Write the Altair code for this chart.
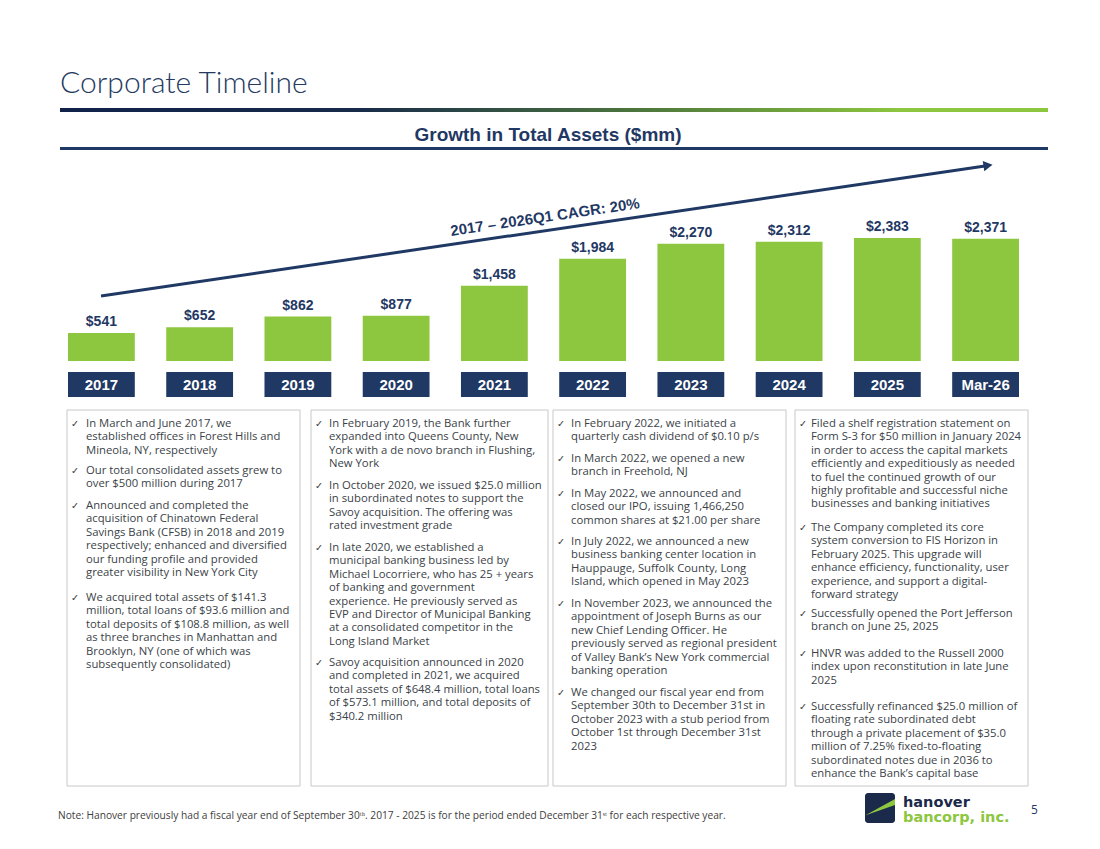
import altair as alt
import pandas as pd

# ---------------- data ----------------
years = ["2017", "2018", "2019", "2020", "2021", "2022", "2023", "2024", "2025", "Mar-26"]
assets = [541, 652, 862, 877, 1458, 1984, 2270, 2312, 2383, 2371]
labels = ["$541", "$652", "$862", "$877", "$1,458", "$1,984", "$2,270", "$2,312", "$2,383", "$2,371"]

box1 = [
    "In March and June 2017, we\nestablished offices in Forest Hills and\nMineola, NY, respectively",
    "Our total consolidated assets grew to\nover $500 million during 2017",
    "Announced and completed the\nacquisition of Chinatown Federal\nSavings Bank (CFSB) in 2018 and 2019\nrespectively; enhanced and diversified\nour funding profile and provided\ngreater visibility in New York City",
    "We acquired total assets of $141.3\nmillion, total loans of $93.6 million and\ntotal deposits of $108.8 million, as well\nas three branches in Manhattan and\nBrooklyn, NY (one of which was\nsubsequently consolidated)",
]
box2 = [
    "In February 2019, the Bank further\nexpanded into Queens County, New\nYork with a de novo branch in Flushing,\nNew York",
    "In October 2020, we issued $25.0 million\nin subordinated notes to support the\nSavoy acquisition. The offering was\nrated investment grade",
    "In late 2020, we established a\nmunicipal banking business led by\nMichael Locorriere, who has 25 + years\nof banking and government\nexperience. He previously served as\nEVP and Director of Municipal Banking\nat a consolidated competitor in the\nLong Island Market",
    "Savoy acquisition announced in 2020\nand completed in 2021, we acquired\ntotal assets of $648.4 million, total loans\nof $573.1 million, and total deposits of\n$340.2 million",
]
box3 = [
    "In February 2022, we initiated a\nquarterly cash dividend of $0.10 p/s",
    "In March 2022, we opened a new\nbranch in Freehold, NJ",
    "In May 2022, we announced and\nclosed our IPO, issuing 1,466,250\ncommon shares at $21.00 per share",
    "In July 2022, we announced a new\nbusiness banking center location in\nHauppauge, Suffolk County, Long\nIsland, which opened in May 2023",
    "In November 2023, we announced the\nappointment of Joseph Burns as our\nnew Chief Lending Officer. He\npreviously served as regional president\nof Valley Bank\u2019s New York commercial\nbanking operation",
    "We changed our fiscal year end from\nSeptember 30th to December 31st in\nOctober 2023 with a stub period from\nOctober 1st through December 31st\n2023",
]
box4 = [
    "Filed a shelf registration statement on\nForm S-3 for $50 million in January 2024\nin order to access the capital markets\nefficiently and expeditiously as needed\nto fuel the continued growth of our\nhighly profitable and successful niche\nbusinesses and banking initiatives",
    "The Company completed its core\nsystem conversion to FIS Horizon in\nFebruary 2025. This upgrade will\nenhance efficiency, functionality, user\nexperience, and support a digital-\nforward strategy",
    "Successfully opened the Port Jefferson\nbranch on June 25, 2025",
    "HNVR was added to the Russell 2000\nindex upon reconstitution in late June\n2025",
    "Successfully refinanced $25.0 million of\nfloating rate subordinated debt\nthrough a private placement of $35.0\nmillion of 7.25% fixed-to-floating\nsubordinated notes due in 2036 to\nenhance the Bank\u2019s capital base",
]

title_text = "Corporate Timeline"
subtitle_text = "Growth in Total Assets ($mm)"
cagr_text = "2017 \u2013 2026Q1  CAGR: 20%"
note_text = ("Note: Hanover previously had a fiscal year end of September 30\u1d57\u02b0. "
             "2017 - 2025 is for the period ended December 31\u02e2\u1d57 for each respective year.")
logo_top = "hanover"
logo_bottom = "bancorp, inc."
page_no = "5"

# ---------------- layout / style ----------------
NAVY = "#1f3864"
LOGO_NAVY = "#1b2a4a"
GREEN = "#8dc63f"
TXT = "#3b3f48"
BOLD = "Liberation Sans"
BODY = "Open Sans"
BODY_SIZE = 11.3
LH = 13.4

box_x = [(67, 300), (311, 548), (553, 786), (795, 1028)]
text_off = [19, 18, 18, 16]
box_top, box_bot = 410, 786
bullet_top = [
    [423, 470, 505, 597],
    [423, 485, 547, 662],
    [423, 458, 493, 541, 603, 692],
    [423, 527, 613, 653, 706],
]
boxes = [box1, box2, box3, box4]

one = pd.DataFrame({"a": [0]})

df = pd.DataFrame({"year": years, "value": assets, "label": labels})
xenc = alt.X("year:N", sort=years, axis=None,
             scale=alt.Scale(range=[68, 1019], paddingInner=0.32, paddingOuter=0))
yscale = alt.Scale(domain=[0, 2500], range=[361, 232], zero=True, nice=False)

bars = alt.Chart(df).mark_bar(color=GREEN).encode(
    x=xenc, y=alt.Y("value:Q", scale=yscale, axis=None))
vals = alt.Chart(df).mark_text(font=BOLD, fontWeight="bold", fontSize=14, color=NAVY,
                               baseline="alphabetic", dy=-7).encode(
    x=xenc, y=alt.Y("value:Q", scale=yscale, axis=None), text="label:N")
ybox = alt.Chart(df).mark_bar(color=NAVY).encode(
    x=xenc, y=alt.value(372), y2=alt.value(397))
ytxt = alt.Chart(df).mark_text(font=BOLD, fontWeight="bold", fontSize=15, color="white",
                               baseline="middle").encode(
    x=xenc, y=alt.value(385), text="year:N")

layers = [bars, vals, ybox, ytxt]

# title and rules
layers.append(alt.Chart(one).mark_text(text=title_text, font="Lato", fontWeight=300, fontSize=30,
                                       color="#243a60", align="left", baseline="alphabetic").encode(
    x=alt.value(60), y=alt.value(93)))
grad = alt.LinearGradient(gradient="linear", x1=0, x2=1, y1=0, y2=0, stops=[
    alt.GradientStop(color="#10224a", offset=0),
    alt.GradientStop(color="#172a4a", offset=0.3),
    alt.GradientStop(color="#4f7a3c", offset=0.6),
    alt.GradientStop(color=GREEN, offset=0.85),
    alt.GradientStop(color=GREEN, offset=1)])
layers.append(alt.Chart(one).mark_rect(color=grad).encode(
    x=alt.value(60), x2=alt.value(1048), y=alt.value(108), y2=alt.value(112)))
layers.append(alt.Chart(one).mark_text(text=subtitle_text, font=BOLD, fontWeight="bold", fontSize=19,
                                       color=NAVY, align="center", baseline="alphabetic").encode(
    x=alt.value(548), y=alt.value(141)))
layers.append(alt.Chart(one).mark_rect(color=NAVY).encode(
    x=alt.value(60), x2=alt.value(1048), y=alt.value(147), y2=alt.value(150)))

# CAGR arrow
layers.append(alt.Chart(one).mark_rule(color=NAVY, strokeWidth=3).encode(
    x=alt.value(101), y=alt.value(296), x2=alt.value(985), y2=alt.value(166)))
layers.append(alt.Chart(one).mark_point(shape="triangle-right", filled=True, size=110, angle=351.6,
                                        color=NAVY, opacity=1).encode(
    x=alt.value(988), y=alt.value(165.5)))
layers.append(alt.Chart(one).mark_text(text=cagr_text, font=BOLD, fontWeight="bold", fontSize=15,
                                       color=NAVY, angle=351.6, align="center", baseline="middle").encode(
    x=alt.value(545), y=alt.value(217)))

# text boxes
for (x0, x1), off, bl, tops in zip(box_x, text_off, boxes, bullet_top):
    layers.append(alt.Chart(one).mark_rect(fill="white", stroke="#c8c8c8", strokeWidth=1).encode(
        x=alt.value(x0), x2=alt.value(x1), y=alt.value(box_top), y2=alt.value(box_bot)))
    bdf = pd.DataFrame({"t": bl, "y": [t + 4 for t in tops]})
    layers.append(alt.Chart(bdf).mark_text(font=BODY, fontSize=BODY_SIZE, color=TXT, align="left",
                                           baseline="alphabetic", lineBreak="\n", lineHeight=LH).encode(
        x=alt.value(x0 + off), y=alt.Y("y:Q", scale=None), text="t:N"))
    layers.append(alt.Chart(bdf).mark_text(text="\u2713", font="DejaVu Sans", fontSize=9.5, color=TXT,
                                           align="left", baseline="alphabetic").encode(
        x=alt.value(x0 + 4), y=alt.Y("y:Q", scale=None)))

# footer
layers.append(alt.Chart(one).mark_text(text=note_text, font=BODY, fontSize=10.2, color="#404040",
                                       align="left", baseline="alphabetic").encode(
    x=alt.value(58), y=alt.value(819)))
layers.append(alt.Chart(one).mark_rect(color=LOGO_NAVY, cornerRadius=3).encode(
    x=alt.value(865), x2=alt.value(895), y=alt.value(793), y2=alt.value(823)))
layers.append(alt.Chart(one).mark_point(shape="M -1 0.5 L 1 -0.6 L 1 -0.2 Z", filled=True, size=900,
                                        color=GREEN, opacity=1).encode(
    x=alt.value(880), y=alt.value(808)))
layers.append(alt.Chart(one).mark_text(text=logo_top, font="DejaVu Sans", fontWeight="bold", fontSize=14.5,
                                       color=LOGO_NAVY, align="left", baseline="alphabetic").encode(
    x=alt.value(903), y=alt.value(807)))
layers.append(alt.Chart(one).mark_text(text=logo_bottom, font="DejaVu Sans", fontWeight="bold", fontSize=14.5,
                                       color=GREEN, align="left", baseline="alphabetic").encode(
    x=alt.value(903), y=alt.value(822)))
layers.append(alt.Chart(one).mark_text(text=page_no, font=BODY, fontSize=12, color=NAVY,
                                       align="left", baseline="alphabetic").encode(
    x=alt.value(1031), y=alt.value(814)))

chart = alt.layer(*layers).properties(
    width=1100, height=849, padding=0,
    autosize=alt.AutoSizeParams(type="none"),
    background="white",
).configure_view(stroke=None)

chart.save("out.html", embed_options={"renderer": "svg", "actions": False})
